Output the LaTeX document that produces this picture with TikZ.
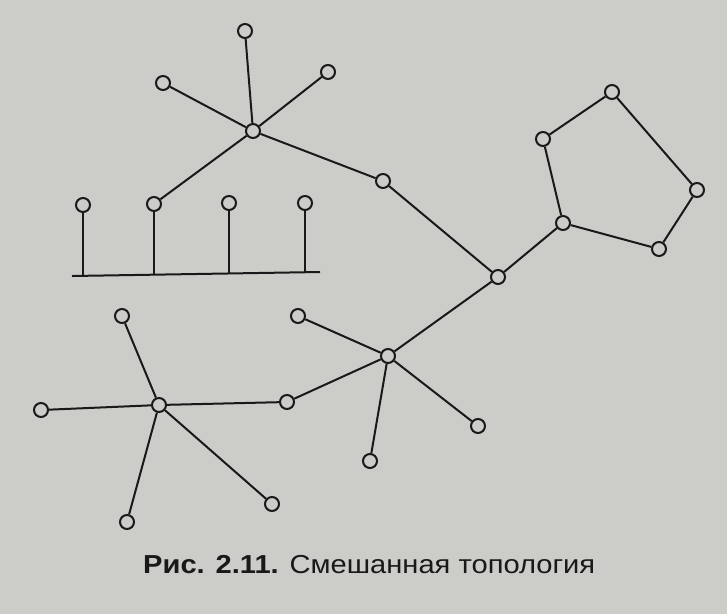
\documentclass[tikz,border=0pt]{standalone}
\usepackage{fontspec}
\setmainfont{Liberation Sans}
\definecolor{paper}{RGB}{204,204,201}
\definecolor{ink}{RGB}{25,25,25}
\begin{document}
\begin{tikzpicture}[x=1pt,y=-1pt,
  nd/.style={circle,draw=ink,fill=paper,line width=2pt,minimum size=14pt,inner sep=0pt},
  ln/.style={draw=ink,line width=2pt}]
\fill[paper] (0,0) rectangle (727,614);
\useasboundingbox (0,0) rectangle (727,614);
% star 1
\node[nd] (h1) at (253,131) {};
\node[nd] (t1) at (245,31) {};
\node[nd] (t2) at (163,83) {};
\node[nd] (t3) at (328,72) {};
\node[nd] (m1) at (383,181) {};
% bus
\node[nd] (b1) at (83,205) {};
\node[nd] (b2) at (154,204) {};
\node[nd] (b3) at (229,203) {};
\node[nd] (b4) at (305,203) {};
\coordinate (bl) at (72,276);
\coordinate (br) at (320,272);
\coordinate (d1) at (83,275.7);
\coordinate (d2) at (154,274.6);
\coordinate (d3) at (229,273.4);
\coordinate (d4) at (305,272.2);
% middle chain
\node[nd] (c1) at (498,277) {};
\node[nd] (c2) at (563,223) {};
% ring
\node[nd] (r1) at (543,139) {};
\node[nd] (r2) at (612,92) {};
\node[nd] (r3) at (697,190) {};
\node[nd] (r4) at (659,249) {};
% star 2
\node[nd] (h2) at (388,356) {};
\node[nd] (s1) at (298,316) {};
\node[nd] (s2) at (287,402) {};
\node[nd] (s3) at (478,426) {};
\node[nd] (s4) at (370,461) {};
% star 3
\node[nd] (h3) at (159,405) {};
\node[nd] (u1) at (122,316) {};
\node[nd] (u2) at (41,410) {};
\node[nd] (u3) at (127,522) {};
\node[nd] (u4) at (272,504) {};
% edges
\path[ln] (h1)--(t1) (h1)--(t2) (h1)--(t3) (h1)--(m1) (h1)--(b2);
\path[ln] (bl)--(br);
\path[ln] (b1)--(d1) (b2)--(d2) (b3)--(d3) (b4)--(d4);
\path[ln] (m1)--(c1) (c1)--(c2) (c1)--(h2);
\path[ln] (c2)--(r1) (r1)--(r2) (r2)--(r3) (r3)--(r4) (r4)--(c2);
\path[ln] (h2)--(s1) (h2)--(s2) (h2)--(s3) (h2)--(s4);
\path[ln] (s2)--(h3) (h3)--(u1) (h3)--(u2) (h3)--(u3) (h3)--(u4);
% caption
\node[anchor=base west,inner sep=0pt,text=ink,xscale=1.12,font=\fontsize{26}{30}\selectfont] (cap) at (143,573)
  {\textbf{Рис. 2.11.} Смешанная топология};
\end{tikzpicture}
\end{document}
